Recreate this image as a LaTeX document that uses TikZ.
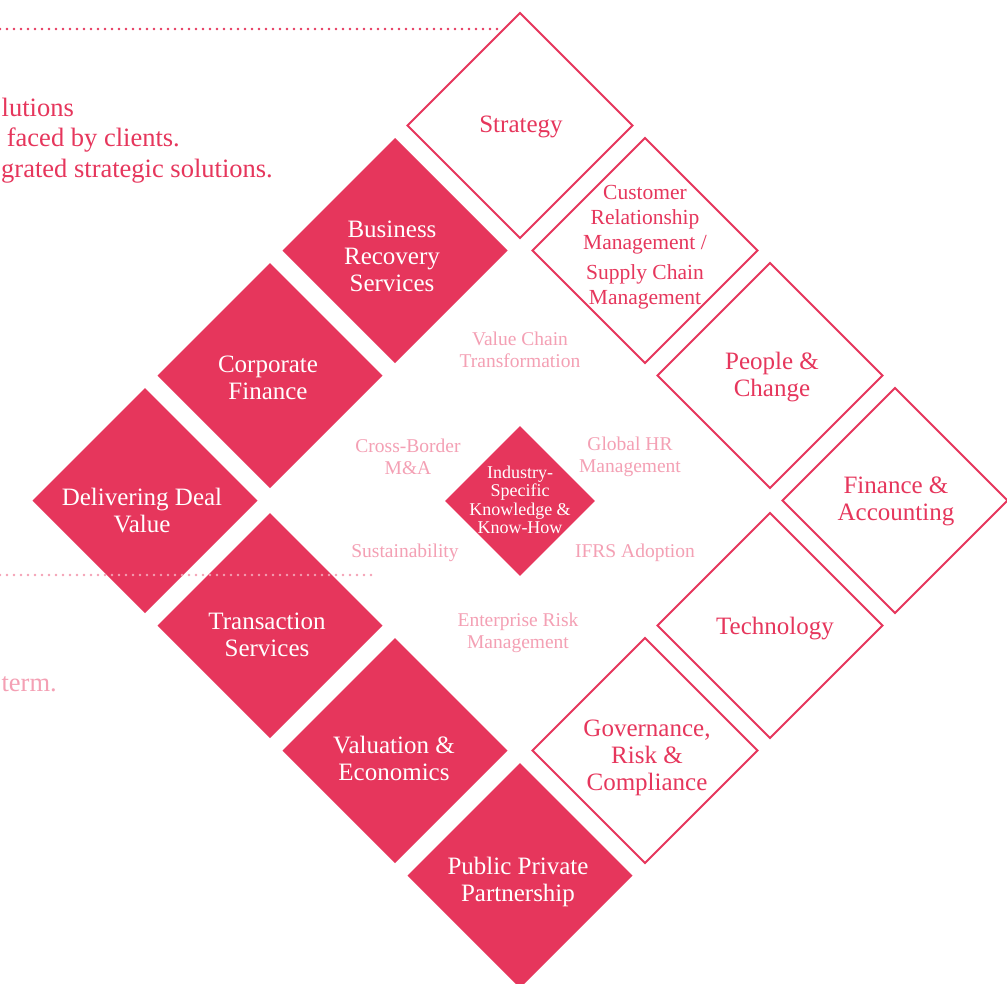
\documentclass[tikz,border=0pt]{standalone}
\usepackage{fontspec}
\setmainfont{Liberation Serif}
\usetikzlibrary{shapes.geometric}
\definecolor{dred}{HTML}{E6365C}
\definecolor{lpink}{HTML}{F4A0B4}
\tikzset{
  dbase/.style={diamond, aspect=1, minimum width=225pt, minimum height=225pt, inner sep=0pt, outer sep=0pt},
  filledd/.style={dbase, fill=dred},
  outlined/.style={dbase, draw=dred, line width=2pt, fill=white},
  centerd/.style={diamond, aspect=1, minimum width=150pt, minimum height=150pt, inner sep=0pt, fill=dred},
  wlab/.style={text=white, font=\fontsize{25}{27}\selectfont, align=center, inner sep=0pt},
  rlab/.style={text=dred, font=\fontsize{25}{27}\selectfont, align=center, inner sep=0pt},
  crmlab/.style={text=dred, font=\fontsize{21.5}{25}\selectfont, align=center, inner sep=0pt},
  clab/.style={text=white, font=\fontsize{18}{18.5}\selectfont, align=center, inner sep=0pt},
  plab/.style={text=lpink, font=\fontsize{19.5}{22.5}\selectfont, align=center, inner sep=0pt},
  sidetext/.style={font=\fontsize{26.5}{30}\selectfont, inner sep=0pt, anchor=base east},
  dotline/.style={line width=2.6pt, line cap=round, dash pattern=on 0pt off 7pt},
}
\begin{document}
\begin{tikzpicture}[x=1pt,y=-1pt]
\useasboundingbox (0,0) rectangle (1007,983);
\clip (0,0) rectangle (1007,983);
\fill[white] (0,0) rectangle (1007,983);

% outlined diamonds
\node[outlined] (strat) at (520,125.5) {};
\node[outlined] (crm)   at (645,250.5) {};
\node[outlined] (ppl)   at (770,375.5) {};
\node[outlined] (fin)   at (895,500.5) {};
\node[outlined] (tech)  at (770,625.5) {};
\node[outlined] (gov)   at (645,750.5) {};

% filled diamonds
\node[filledd] (brs) at (395,250.5) {};
\node[filledd] (cf)  at (270,375.5) {};
\node[filledd] (ddv) at (145,500.5) {};
\node[filledd] (ts)  at (270,625.5) {};
\node[filledd] (ve)  at (395,750.5) {};
\node[filledd] (ppp) at (520,875.5) {};

% centre diamond
\node[centerd] (core) at (520,501) {};

% dotted rules
\coordinate (d1a) at (0,29);
\coordinate (d1b) at (500,29);
\coordinate (d2a) at (0,575);
\coordinate (d2b) at (372,575);
\draw[dotline, dred] (d1a) -- (d1b);
\draw[dotline, lpink] (d2a) -- (d2b);

% labels in outlined diamonds
\node[rlab] (tstrat) at (521,127) {Strategy};
\node[crmlab] (tcrm) at (645,247) {Customer\\Relationship\\Management /\\[5pt]Supply Chain\\Management};
\node[rlab] (tppl) at (772,377) {People \&\\Change};
\node[rlab] (tfin) at (896,501) {Finance \&\\Accounting};
\node[rlab] (ttech) at (775,629) {Technology};
\node[rlab] (tgov) at (647,758) {Governance,\\Risk \&\\Compliance};

% labels in filled diamonds
\node[wlab] (tbrs) at (392,256) {Business\\Recovery\\Services};
\node[wlab] (tcf) at (268,378) {Corporate\\Finance};
\node[wlab] (tddv) at (142,511) {Delivering Deal\\Value};
\node[wlab] (tts) at (267,635) {Transaction\\Services};
\node[wlab] (tve) at (394,758) {Valuation \&\\Economics};
\node[wlab] (tppp) at (518,882) {Public Private\\Partnership};

% centre label
\node[clab] (tcore) at (520,500) {Industry-\\Specific\\Knowledge \&\\Know-How};

% inner light labels
\node[plab] (vct) at (520,350) {Value Chain\\Transformation};
\node[plab] (cbm) at (408,457) {Cross-Border\\M\&A};
\node[plab] (ghr) at (630,457) {Global HR\\Management};
\node[plab] (sus) at (405,553) {Sustainability};
\node[plab] (ifrs) at (635,553) {IFRS Adoption};
\node[plab] (erm) at (518,633) {Enterprise Risk\\Management};

% clipped side text
\node[sidetext, text=dred] (s1) at (74,116.7) {lutions};
\node[sidetext, text=dred] (s2) at (180,146.7) {faced by clients.};
\node[sidetext, text=dred] (s3) at (273,177.3) {grated strategic solutions.};
\node[sidetext, text=lpink] (s4) at (57,691.7) {term.};
\end{tikzpicture}
\end{document}
